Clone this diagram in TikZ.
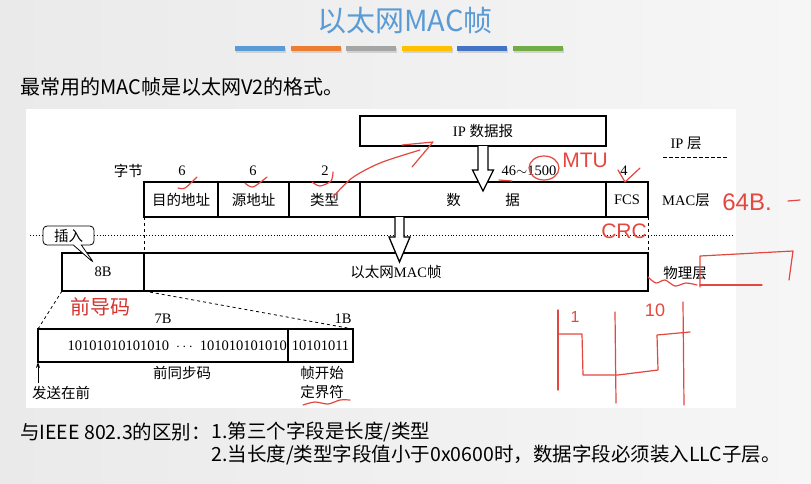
\documentclass[tikz,border=0pt]{standalone}
\usepackage{fontspec}
\usetikzlibrary{arrows.meta,positioning,shapes.callouts}
\setmainfont{Liberation Serif}
\newfontfamily\cjk{Noto Sans CJK SC}
\newfontfamily\handfont{Liberation Sans}
\newcommand\zh[1]{{\cjk #1}}
\newcommand\figfont{\fontsize{14.5}{17}\selectfont}
\definecolor{titleblue}{HTML}{5B9BD5}
\definecolor{barblueA}{HTML}{5B9BD5}
\definecolor{barorange}{HTML}{ED7D31}
\definecolor{bargray}{HTML}{A5A5A5}
\definecolor{bargold}{HTML}{FFC000}
\definecolor{barblueB}{HTML}{4472C4}
\definecolor{bargreen}{HTML}{70AD47}
\definecolor{penred}{HTML}{E4473F}
\definecolor{notered}{HTML}{D6332F}
\definecolor{slideL}{HTML}{EAEAEA}
\definecolor{slideR}{HTML}{F6F6F6}
\begin{document}
\begin{tikzpicture}[x=1pt,y=-1pt,
  frame/.style={line width=1.3pt},
  field/.style={draw, frame, inner sep=0pt, outer sep=0pt, font=\figfont},
  label/.style={inner sep=0pt, font=\figfont},
  slidetxt/.style={inner sep=0pt, font=\cjk\fontsize{19.5}{22}\selectfont},
  hollow/.style={frame, fill=white, line join=miter},
  pen/.style={penred, line width=1.2pt, line cap=round, line join=round},
  handtxt/.style={penred, inner sep=0pt, font=\handfont\fontsize{21}{21}\selectfont}]
  \useasboundingbox (0,0) rectangle (811,483);
  % slide background
  \shade[left color=slideL, right color=slideR] (0,0) rectangle (811,483);
  \fill[white] (26,109) rectangle (736,408);
  % title and colour bars
  \node[inner sep=0pt, text=titleblue, font=\cjk\fontsize{29}{32}\selectfont] (title) at (405,21) {以太网MAC帧};
  \foreach \c [count=\i from 0] in {barblueA,barorange,bargray,bargold,barblueB,bargreen} {
    \fill[black!18] (236+55.6*\i,47.5) rectangle ++(50,5);
    \fill[\c] (235+55.6*\i,46) rectangle ++(50,5);
  }
  \node[slidetxt, anchor=west, font=\cjk\fontsize{20}{22}\selectfont] (intro) at (20,87) {最常用的MAC帧是以太网V2的格式。};
  % IP layer
  \node[field, minimum width=246pt, minimum height=30pt] (ipbox) at (483,131) {IP \zh{数据报}};
  \node[label] (iplayer) at (686,143) {IP \zh{层}};
  \draw[dash pattern=on 4pt off 2pt, line width=0.8pt] (663,157) -- (727,157);
  % MAC frame fields
  \node[field, minimum width=74pt, minimum height=35pt] (dst) at (181,199.5) {\zh{目的地址}};
  \node[field, minimum width=71pt, minimum height=35pt, right=0pt of dst] (src) {\zh{源地址}};
  \node[field, minimum width=71pt, minimum height=35pt, right=0pt of src] (type) {\zh{类型}};
  \node[field, minimum width=246pt, minimum height=35pt, right=0pt of type] (data) {\zh{数}\hspace{44.5pt}\zh{据}};
  \node[field, minimum width=42pt, minimum height=35pt, right=0pt of data] (fcs) {FCS};
  \node[label, anchor=east] (bytes) at (143,171) {\zh{字节}};
  \node[label] (ndst) at (182,171) {6};
  \node[label] (nsrc) at (253,171) {6};
  \node[label] (ntype) at (325,171) {2};
  \node[label] (ndata) at (529,171) {46$\sim$1500};
  \node[label] (nfcs) at (624,171) {4};
  \node[label] (maclayer) at (686,200) {MAC\zh{层}};
  % physical layer
  \node[field, minimum width=82pt, minimum height=38pt] (pre) at (103,272) {8B};
  \node[field, minimum width=504pt, minimum height=38pt, right=0pt of pre] (frame) {\zh{以太网}MAC\zh{帧}};
  \node[label] (phylayer) at (685,273) {\zh{物理层}};
  \draw[dotted, line width=0.9pt] (30,235) -- (732,235);
  \draw[dashed, line width=0.8pt] (dst.south west) -- (frame.north west);
  \draw[dashed, line width=0.8pt] (fcs.south east) -- (frame.north east);
  \node[rectangle callout, draw, line width=0.8pt, rounded corners=4pt, fill=white,
        inner sep=0pt, minimum width=51pt, minimum height=19pt, font=\figfont,
        callout absolute pointer={(94,263)}, callout pointer width=8pt] (insert) at (68.5,235.5) {\zh{插入}};
  % hollow arrows between layers
  \draw[hollow] (ipbox.south) ++(-5,0) -- ++(0,24) -- ++(-5.5,0) -- ++(10.5,21) -- ++(10.5,-21) -- ++(-5.5,0) -- ++(0,-24);
  \draw[hollow] (frame.north |- data.south) ++(-1,0) -- ++(0,20) -- ++(-6,0) -- ++(10.5,25) -- ++(10.5,-25) -- ++(-6,0) -- ++(0,-20);
  % preamble
  \node[text=notered, inner sep=0pt, font=\cjk\fontsize{20}{22}\selectfont] (pretitle) at (100,307) {前导码};
  \node[field, minimum width=250pt, minimum height=33pt] (sync) at (163,345.5) {};
  \node[field, minimum width=65pt, minimum height=33pt, right=0pt of sync] (sfd) {10101011};
  \node[label, anchor=east] (syncbits) at (287,345.5) {10101010101010\hspace{7pt}$\cdots$\hspace{7pt}101010101010};
  \draw[dashed, line width=0.8pt] (pre.south west) -- (sync.north west);
  \draw[dashed, line width=0.8pt] (pre.south east) -- (sfd.north east);
  \node[label] (n7b) at (163,319) {7B};
  \node[label] (n1b) at (343,319) {1B};
  \node[label] (syncname) at (182,373) {\zh{前同步码}};
  \node[label] (sfdname) at (322,373) {\zh{帧开始}};
  \node[label] (sfdname2) at (322,392) {\zh{定界符}};
  \node[label] (sender) at (61,393) {\zh{发送在前}};
  \coordinate (sendtail) at (38,383);
  \draw[line width=0.8pt, -{Stealth[length=6pt,width=4pt]}] (sendtail) -- (sync.south west);
  % difference to IEEE 802.3
  \coordinate (row2) at (0,455);
  \node[slidetxt, anchor=west] (diffhead) at (20,432) {与IEEE 802.3的区别：};
  \node[slidetxt, anchor=west] (diff1) at (diffhead.east) {1.第三个字段是长度/类型};
  \node[slidetxt, anchor=west] (diff2) at (diff1.west |- row2) {2.当长度/类型字段值小于0x0600时，数据字段必须装入LLC子层。};
  % red pen notes
  \draw[pen] plot[smooth] coordinates {(178,188) (185,188) (197,177)};
  \draw[pen] plot[smooth] coordinates {(245,183) (253,187) (267,177)};
  \draw[pen] plot[smooth] coordinates {(312,182) (320,186) (331,181) (333,172)};
  \draw[pen] plot[smooth] coordinates {(333,197) (352,178) (380,163) (420,150)};
  \draw[pen] (402,145) -- (433,142) -- (412,167);
  \draw[pen] (544,168) ellipse (15 and 12);
  \draw[pen] (499,180) -- (512,181);
  \node[handtxt] (mtu) at (585,160) {MTU};
  \draw[pen] (618,170) -- (625,182) -- (640,168);
  \node[handtxt] (crc) at (624,231) {CRC};
  \node[handtxt, font=\handfont\fontsize{24}{24}\selectfont] (minlen) at (747,202) {64B.};
  \draw[pen] (788,201) -- (800,200);
  \draw[pen] plot[smooth] coordinates {(648,277) (656,283) (665,280) (675,286) (686,283) (697,285)};
  \draw[pen] (700,287) -- (700,256) -- (793,251) -- (789,280);
  \draw[pen] (700,285) -- (762,285);
  \draw[pen] plot[smooth] coordinates {(303,405) (315,402) (328,404) (340,400) (350,400)};
  % square wave
  \draw[pen] (558,310) -- (558,390);
  \draw[pen] (615,312) -- (616,403);
  \draw[pen] (683,302) -- (684,405);
  \draw[pen] (558,334) -- (582,334) -- (583,375) -- (618,375) -- (658,370) -- (657,335) -- (690,332);
  \node[handtxt, font=\handfont\fontsize{16}{16}\selectfont] (bitone) at (575,317) {1};
  \node[handtxt, font=\handfont\fontsize{18}{18}\selectfont] (bitzero) at (655,310) {10};
\end{tikzpicture}
\end{document}
